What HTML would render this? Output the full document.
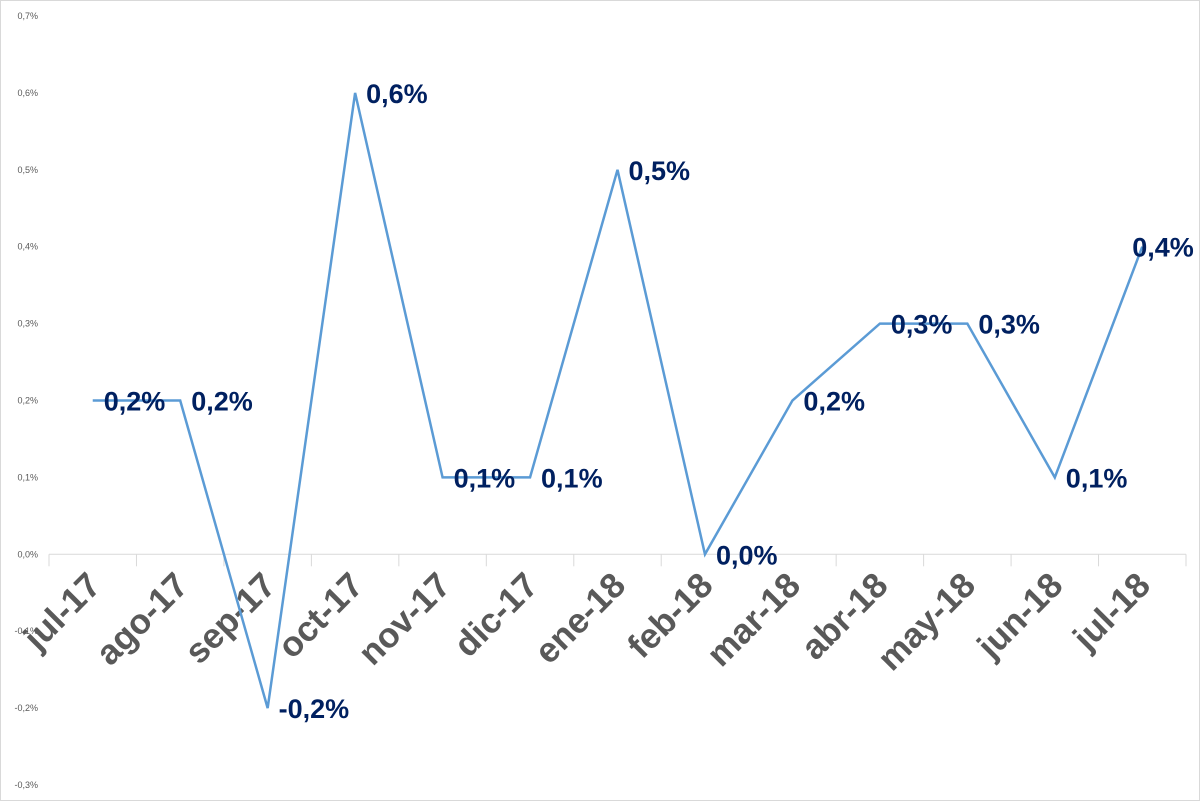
<!DOCTYPE html>
<html><head><meta charset="utf-8"><style>
body{margin:0;background:#fff}
svg{display:block;font-family:"Liberation Sans",Arial,sans-serif}
</style></head><body>
<svg id="chart" width="1200" height="801">
<rect x="0.5" y="0.5" width="1199" height="800" fill="#fff" stroke="#d9d9d9"/>
<g id="axes"></g><g id="series"></g><g id="labels"></g>
</svg>
<script>
const categories=["jul-17","ago-17","sep-17","oct-17","nov-17","dic-17","ene-18","feb-18","mar-18","abr-18","may-18","jun-18","jul-18"];
const values=[0.2,0.2,-0.2,0.6,0.1,0.1,0.5,0.0,0.2,0.3,0.3,0.1,0.4];
const valueLabels=["0,2%","0,2%","-0,2%","0,6%","0,1%","0,1%","0,5%","0,0%","0,2%","0,3%","0,3%","0,1%","0,4%"];
const yTicks=[0.7,0.6,0.5,0.4,0.3,0.2,0.1,0.0,-0.1,-0.2,-0.3];
const yTickLabels=["0,7%","0,6%","0,5%","0,4%","0,3%","0,2%","0,1%","0,0%","-0,1%","-0,2%","-0,3%"];
const NS="http://www.w3.org/2000/svg";
const left=49,right=1186,top0=16,bot0=785,yMax=0.7,yMin=-0.3;
const step=(right-left)/categories.length;
function x(i){return left+step*(i+0.5);}
function y(v){return top0+(yMax-v)/(yMax-yMin)*(bot0-top0);}
function mk(tag,attrs,parent){const e=document.createElementNS(NS,tag);for(const k in attrs)e.setAttribute(k,attrs[k]);parent.appendChild(e);return e;}
const axes=document.getElementById('axes'),series=document.getElementById('series'),labels=document.getElementById('labels');
yTicks.forEach((t,i)=>{
 const tx=mk('text',{x:38,y:y(t)+3,'text-anchor':'end','font-size':9,fill:'#595959'},axes);
 tx.textContent=yTickLabels[i];
 
 
});
const ax=mk('line',{x1:left,x2:right,y1:y(0),y2:y(0),stroke:'#d9d9d9','stroke-width':1},axes);


for(let i=0;i<=categories.length;i++){
 const tk=mk('line',{x1:left+step*i,x2:left+step*i,y1:y(0),y2:y(0)+12,stroke:'#d9d9d9'},axes);
 
 
}
categories.forEach((c,i)=>{
 const cx=x(i)+10,cy=y(0)+33;
 const t=mk('text',{x:cx,y:cy,'text-anchor':'end','font-size':35,'font-weight':'bold',fill:'#595959',transform:`rotate(-45 ${cx} ${cy})`},axes);
 t.textContent=c;
 
 
});
const pl=mk('polyline',{points:values.map((v,i)=>x(i)+','+y(v)).join(' '),fill:'none',stroke:'#5b9bd5','stroke-width':2.5,'stroke-linejoin':'miter'},series);


values.forEach((v,i)=>{
 const last=i===values.length-1;
 const t=mk('text',{x:last?x(i)-10:x(i)+11,y:y(v)+10,'font-size':27,'font-weight':'bold',fill:'#002060'},labels);
 t.textContent=valueLabels[i];
 
 
});
</script>
</body></html>
